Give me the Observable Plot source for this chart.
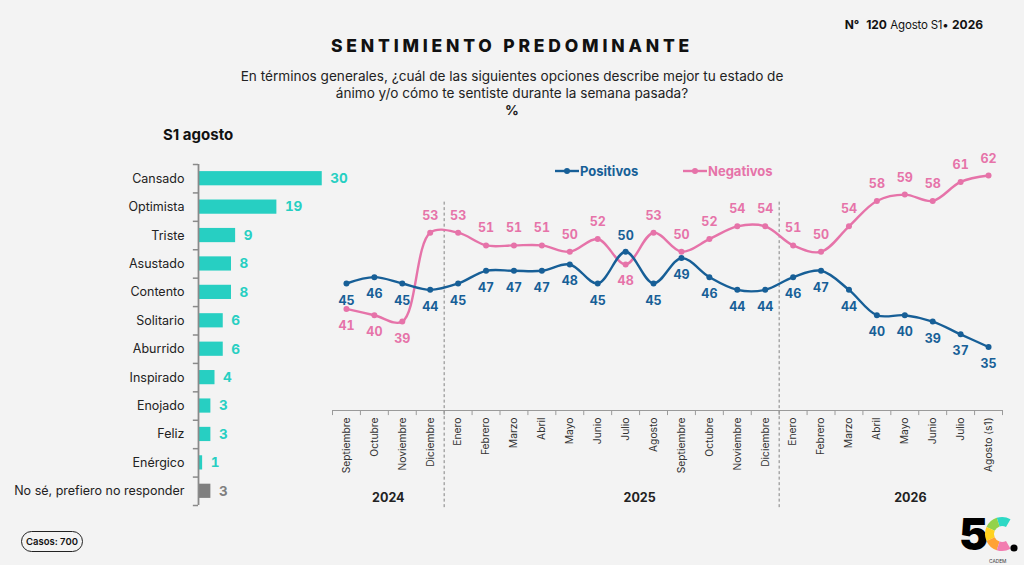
<!DOCTYPE html>
<html><head><meta charset="utf-8">
<script src="https://cdn.jsdelivr.net/npm/d3@7"></script>
<script src="https://cdn.jsdelivr.net/npm/@observablehq/plot@0.6"></script>
<style>
html,body{margin:0;padding:0;}
body{width:1024px;height:565px;background:#f3f3f3;position:relative;overflow:hidden;font-family:Inter,"Open Sans",sans-serif;color:#222;}
.abs{position:absolute;white-space:nowrap;}
</style></head><body>
<div class="abs" style="right:41px;top:17px;font-size:12px;color:#111;"><b>N°</b>&nbsp; <b>120</b> <span style="font-size:11.5px;letter-spacing:-0.2px;">Agosto S1•</span> <b>2026</b></div>
<div class="abs" style="left:0;width:1024px;top:35px;text-align:center;font-size:17.5px;font-weight:800;letter-spacing:3.8px;color:#111;">SENTIMIENTO PREDOMINANTE</div>
<div class="abs" style="left:0;width:1024px;top:68px;text-align:center;font-size:13.6px;line-height:17px;color:#222;">En términos generales, ¿cuál de las siguientes opciones describe mejor tu estado de<br>ánimo y/o cómo te sentiste durante la semana pasada?<br><b>%</b></div>
<div class="abs" style="left:163px;top:125px;font-size:15px;font-weight:700;color:#111;">S1 agosto</div>
<div id="bars" class="abs" style="left:0;top:150px;"></div>
<div id="lines" class="abs" style="left:320px;top:150px;"></div>
<div id="legend" class="abs" style="left:554px;top:161px;font-size:13px;font-weight:700;"></div>
<div class="abs" style="left:21px;top:531px;width:60px;height:19px;border:1px solid #222;border-radius:11px;font-size:9.5px;font-weight:600;line-height:19px;text-align:center;color:#111;">Casos: 700</div>
<svg id="logo" class="abs" style="left:950px;top:500px;" width="74" height="65"></svg>
<script>
// ---- Data ----
const categories = ["Cansado","Optimista","Triste","Asustado","Contento","Solitario","Aburrido","Inspirado","Enojado","Feliz","Enérgico","No sé, prefiero no responder"];
const shares = [30,19,9,8,8,6,6,4,3,3,1,3];
const noAnswer = "No sé, prefiero no responder";

const months = ["Septiembre","Octubre","Noviembre","Diciembre","Enero","Febrero","Marzo","Abril","Mayo","Junio","Julio","Agosto","Septiembre","Octubre","Noviembre","Diciembre","Enero","Febrero","Marzo","Abril","Mayo","Junio","Julio","Agosto (s1)"];
const monthYears = [2024,2024,2024,2024,2025,2025,2025,2025,2025,2025,2025,2025,2025,2025,2025,2025,2026,2026,2026,2026,2026,2026,2026,2026];
const positivos = [45,46,45,44,45,47,47,47,48,45,50,45,49,46,44,44,46,47,44,40,40,39,37,35];
const negativos = [41,40,39,53,53,51,51,51,50,52,48,53,50,52,54,54,51,50,54,58,59,58,61,62];
const yearLabels = ["2024","2025","2026"];
const yearLabelAt = [1.5,10.5,20.2]; // month-index position of each year label
const series = ["Positivos","Negativos"];

const TEAL = "#27cfc2", GRAY = "#7f7f7f", BLUE = "#175f97", PINK = "#e673a9";
const FONT = "Inter, 'Open Sans', sans-serif";

// ---- Bar chart ----
const barRows = categories.map((c,i)=>({c, v:shares[i], col: c===noAnswer?GRAY:TEAL}));
const bandStep = (360-14-5)/12;
const bars = Plot.plot({
  width:363, height:360, marginLeft:198, marginRight:0, marginTop:14, marginBottom:5,
  style:{background:"transparent", fontFamily:FONT, fontSize:"12.5px", color:"#222"},
  x:{domain:[0,40], axis:null},
  y:{domain:categories, paddingInner:0.5, paddingOuter:0.25, round:false, axis:null},
  color:{type:"identity"},
  marks:[
    Plot.barX(barRows, {x:"v", y:"c", fill:"col"}),
    Plot.ruleY(categories, {y:d=>d, x1:-1.25, x2:0, dy:-bandStep/2, stroke:"#8a8a8a", strokeWidth:1.5}),
    Plot.ruleY(categories.slice(-1), {y:d=>d, x1:-1.25, x2:0, dy:bandStep/2, stroke:"#8a8a8a", strokeWidth:1.5}),
    Plot.ruleX([0], {stroke:"#8a8a8a", strokeWidth:1.8}),
    Plot.axisY({tickSize:0, tickPadding:14, fontSize:12.5, label:null}),
    Plot.text(barRows, {x:"v", y:"c", text:"v", dx:8, textAnchor:"start", fill:"col", fontWeight:700, fontSize:13.5})
  ]
});
document.getElementById("bars").appendChild(bars);

// ---- Line chart ----
const rows = months.map((m,i)=>({i, month:m, year:monthYears[i], pos:positivos[i], neg:negativos[i]}));
const n = months.length;
const boundaries = d3.range(-0.5, n, 1);
const yearBreaks = rows.filter((d,i)=>i>0 && d.year!==rows[i-1].year).map(d=>d.i-0.5);
const posAbove = d=> d.pos>d.neg && d.pos-d.neg<4;   // Julio 2025 crossing
const negBelow = d=> d.neg<d.pos;
const lines = Plot.plot({
  width:704, height:380, marginLeft:12, marginRight:22, marginTop:6, marginBottom:120,
  style:{background:"transparent", fontFamily:FONT, overflow:"visible"},
  x:{domain:[-0.5, n-0.5], axis:null},
  y:{domain:[25,65], axis:null},
  marks:[
    Plot.ruleX(yearBreaks, {y1:9.7, y2:58, stroke:"#777", strokeWidth:0.9, strokeDasharray:"3,2.5"}),
    Plot.ruleY([25], {stroke:"#9a9a9a", strokeWidth:1}),
    Plot.ruleX(boundaries, {y1:25, y2:24.2, stroke:"#9a9a9a", strokeWidth:1}),
    Plot.text(rows, {x:"i", y:25, text:"month", rotate:-90, textAnchor:"end", dy:7, fontSize:10.3, fill:"#333"}),
    Plot.text(yearLabels, {x:(d,i)=>yearLabelAt[i], y:25, text:d=>d, dy:87, fontSize:12.5, fontWeight:700, fill:"#222"}),
    Plot.line(rows, {x:"i", y:"neg", curve:"catmull-rom", stroke:PINK, strokeWidth:2.4}),
    Plot.dot(rows, {x:"i", y:"neg", r:3, fill:PINK}),
    Plot.line(rows, {x:"i", y:"pos", curve:"catmull-rom", stroke:BLUE, strokeWidth:2.4}),
    Plot.dot(rows, {x:"i", y:"pos", r:3, fill:BLUE}),
    Plot.text(rows.filter(d=>!posAbove(d)), {x:"i", y:"pos", text:"pos", dy:17, fill:BLUE, fontWeight:700, fontSize:12.5}),
    Plot.text(rows.filter(posAbove), {x:"i", y:"pos", text:"pos", dy:-16, fill:BLUE, fontWeight:700, fontSize:12.5}),
    Plot.text(rows.filter(d=>!negBelow(d)), {x:"i", y:"neg", text:"neg", dy:-17, fill:PINK, fontWeight:700, fontSize:12.5}),
    Plot.text(rows.filter(negBelow), {x:"i", y:"neg", text:"neg", dy:17, fill:PINK, fontWeight:700, fontSize:12.5})
  ]
});
document.getElementById("lines").appendChild(lines);

// ---- Legend ----
const legendColors = [BLUE, PINK];
const legendLeft = [0, 128];
document.getElementById("legend").innerHTML = series.map((s,i)=>
  `<span style="position:absolute;left:${legendLeft[i]}px;top:0;color:${legendColors[i]};display:flex;align-items:center;">
    <svg width="26" height="20"><line x1="1" y1="10" x2="25" y2="10" stroke="${legendColors[i]}" stroke-width="2.4"/><circle cx="13" cy="10" r="3" fill="${legendColors[i]}"/></svg>${s}</span>`).join("");

// ---- Logo ----
const logo = d3.select("#logo");
logo.append("text").attr("x",9).attr("y",50).attr("font-size",44).attr("font-weight",900).attr("font-family",FONT).attr("fill","#000").text("5");
const logoColors = ["#2dd9c5","#93d24c","#ffd21f","#ffa234","#f27db0"];
const arcGen = d3.arc().innerRadius(8).outerRadius(17);
logoColors.forEach((c,i)=>{
  const a0 = (30 - 48*(i+1))*Math.PI/180, a1 = (30 - 48*i)*Math.PI/180;
  logo.append("path").attr("transform","translate(52,34)").attr("d", arcGen({startAngle:a0,endAngle:a1})).attr("fill",c);
});
logo.append("circle").attr("cx",64).attr("cy",48).attr("r",3.6).attr("fill","#000");
logo.append("text").attr("x",39).attr("y",63).attr("font-size",4.8).attr("font-family",FONT).attr("fill","#333").text("CADEM");
</script>
</body></html>
